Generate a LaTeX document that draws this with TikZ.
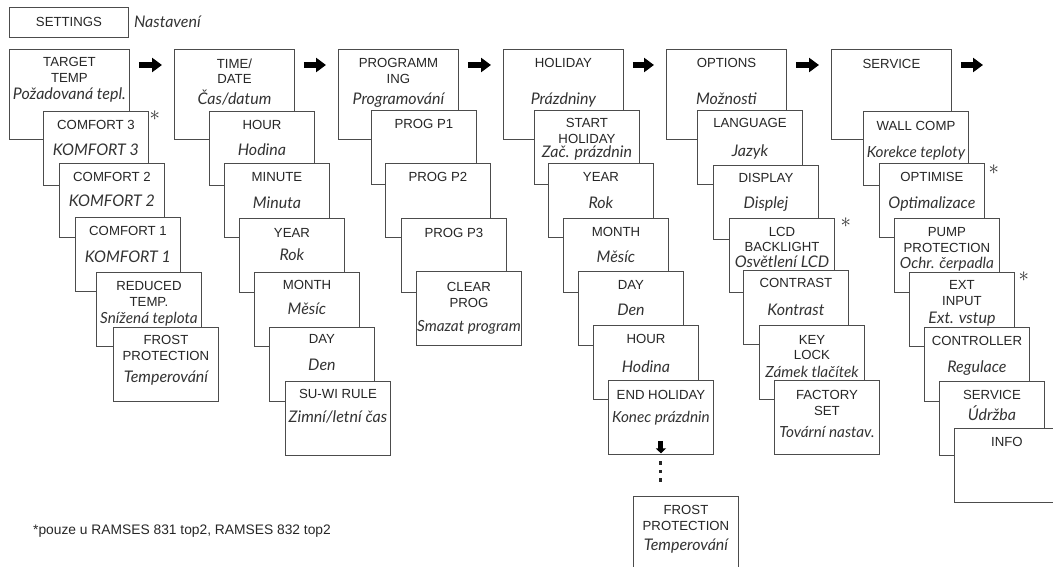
\documentclass[tikz,border=0pt]{standalone}
\usepackage{fontspec}
\setmainfont{Liberation Sans}
\newfontfamily\czfont{Lato}
\usetikzlibrary{arrows.meta}

\begin{document}
\begin{tikzpicture}[x=1pt,y=-1pt,
	hd/.style={draw=black!70,line width=0.9pt,fill=white,anchor=north west,inner sep=0pt,minimum width=120pt,minimum height=90pt},
	sub/.style={hd,minimum width=105pt,minimum height=74pt},
	up/.style={anchor=north,inner sep=0pt,align=center,text=black!85,font=\fontsize{13.2}{15.5}\selectfont},
	cz/.style={anchor=base,inner sep=0pt,text=black!80,font=\czfont\itshape\fontsize{16}{18}\selectfont},
	czs/.style={cz,font=\czfont\itshape\fontsize{15.3}{18}\selectfont},
	blk/.style={line width=6pt,-{Triangle[length=10pt,width=14pt]}},
	dn/.style={line width=5pt,-{Triangle[length=5pt,width=10pt]}},
	star/.style={inner sep=0pt,text=black!80,font=\fontsize{22}{22}\selectfont}]
	\useasboundingbox (0,0) rectangle (1053,567);

	\node[hd,minimum width=119pt,minimum height=30pt,font=\fontsize{13.2}{16}\selectfont,text=black!85] (set) at (9,7) {SETTINGS};
	\node[cz,anchor=base west] (set-c) at ([xshift=5pt,yshift=-5pt]set.east) {Nastavení};

	\node[hd] (tt) at (9,49) {};
	\node[up] (tt-u) at ([yshift=-8.5pt]tt.north) {TARGET\\TEMP};
	\node[cz] (tt-c) at ([yshift=-51pt]tt.north) {Požadovaná tepl.};
	\node[sub] (tt1) at (43,111) {};
	\node[up] (tt1-u) at ([yshift=-9.5pt]tt1.north) {COMFORT 3};
	\node[cz] (tt1-c) at ([yshift=-45pt]tt1.north) {KOMFORT 3};
	\node[star] (tt1-s) at ([xshift=6pt,yshift=-5pt]tt1.north east) {$\ast$};
	\node[sub] (tt2) at (59,163) {};
	\node[up] (tt2-u) at ([yshift=-9.5pt]tt2.north) {COMFORT 2};
	\node[cz] (tt2-c) at ([yshift=-44pt]tt2.north) {KOMFORT 2};
	\node[sub] (tt3) at (75,217) {};
	\node[up] (tt3-u) at ([yshift=-9.5pt]tt3.north) {COMFORT 1};
	\node[cz] (tt3-c) at ([yshift=-45pt]tt3.north) {KOMFORT 1};
	\node[sub] (tt4) at (96,272) {};
	\node[up] (tt4-u) at ([yshift=-9.5pt]tt4.north) {REDUCED\\TEMP.};
	\node[czs] (tt4-c) at ([yshift=-51pt]tt4.north) {Snížená teplota};
	\node[sub] (tt5) at (113,327) {};
	\node[up] (tt5-u) at ([yshift=-8.5pt]tt5.north) {FROST\\PROTECTION};
	\node[cz] (tt5-c) at ([yshift=-55pt]tt5.north) {Temperování};

	\node[hd] (td) at (174,49) {};
	\node[up] (td-u) at ([yshift=-9.5pt]td.north) {TIME/\\DATE};
	\node[cz] (td-c) at ([yshift=-56pt]td.north) {Čas/datum};
	\node[sub] (td1) at (209,111) {};
	\node[up] (td1-u) at ([yshift=-9.5pt]td1.north) {HOUR};
	\node[cz] (td1-c) at ([yshift=-45pt]td1.north) {Hodina};
	\node[sub] (td2) at (224,163) {};
	\node[up] (td2-u) at ([yshift=-9.5pt]td2.north) {MINUTE};
	\node[cz] (td2-c) at ([yshift=-45pt]td2.north) {Minuta};
	\node[sub] (td3) at (239,218) {};
	\node[up] (td3-u) at ([yshift=-10.5pt]td3.north) {YEAR};
	\node[cz] (td3-c) at ([yshift=-42pt]td3.north) {Rok};
	\node[sub] (td4) at (254,272) {};
	\node[up] (td4-u) at ([yshift=-8.5pt]td4.north) {MONTH};
	\node[cz] (td4-c) at ([yshift=-42pt]td4.north) {Měsíc};
	\node[sub] (td5) at (269,327) {};
	\node[up] (td5-u) at ([yshift=-7.5pt]td5.north) {DAY};
	\node[cz] (td5-c) at ([yshift=-43pt]td5.north) {Den};
	\node[sub] (td6) at (285,381) {};
	\node[up] (td6-u) at ([yshift=-8.5pt]td6.north) {SU-WI RULE};
	\node[cz] (td6-c) at ([yshift=-41pt]td6.north) {Zimní/letní čas};

	\node[hd] (pg) at (338,49) {};
	\node[up] (pg-u) at ([yshift=-9.5pt]pg.north) {PROGRAMM\\ING};
	\node[cz] (pg-c) at ([yshift=-56pt]pg.north) {Programování};
	\node[sub] (pg1) at (371,110) {};
	\node[up] (pg1-u) at ([yshift=-9.5pt]pg1.north) {PROG P1};
	\node[sub] (pg2) at (385,163) {};
	\node[up] (pg2-u) at ([yshift=-9.5pt]pg2.north) {PROG P2};
	\node[sub] (pg3) at (401,218) {};
	\node[up] (pg3-u) at ([yshift=-10.5pt]pg3.north) {PROG P3};
	\node[sub] (pg4) at (416,271) {};
	\node[up] (pg4-u) at ([yshift=-11.5pt]pg4.north) {CLEAR\\PROG};
	\node[czs] (pg4-c) at ([yshift=-60pt]pg4.north) {Smazat program};

	\node[hd] (hol) at (503,49) {};
	\node[up] (hol-u) at ([yshift=-9.5pt]hol.north) {HOLIDAY};
	\node[cz] (hol-c) at ([yshift=-56pt]hol.north) {Prázdniny};
	\node[sub] (hol1) at (534,110) {};
	\node[up] (hol1-u) at ([yshift=-8.5pt]hol1.north) {START\\HOLIDAY};
	\node[cz] (hol1-c) at ([yshift=-48pt]hol1.north) {Zač. prázdnin};
	\node[sub] (hol2) at (548,163) {};
	\node[up] (hol2-u) at ([yshift=-9.5pt]hol2.north) {YEAR};
	\node[cz] (hol2-c) at ([yshift=-45pt]hol2.north) {Rok};
	\node[sub] (hol3) at (563,218) {};
	\node[up] (hol3-u) at ([yshift=-9.5pt]hol3.north) {MONTH};
	\node[cz] (hol3-c) at ([yshift=-44pt]hol3.north) {Měsíc};
	\node[sub] (hol4) at (578,271) {};
	\node[up] (hol4-u) at ([yshift=-9.5pt]hol4.north) {DAY};
	\node[cz] (hol4-c) at ([yshift=-44pt]hol4.north) {Den};
	\node[sub] (hol5) at (593,325) {};
	\node[up] (hol5-u) at ([yshift=-9.5pt]hol5.north) {HOUR};
	\node[cz] (hol5-c) at ([yshift=-47pt]hol5.north) {Hodina};
	\node[sub] (hol6) at (608,380) {};
	\node[up] (hol6-u) at ([yshift=-10.5pt]hol6.north) {END HOLIDAY};
	\node[czs] (hol6-c) at ([yshift=-42pt]hol6.north) {Konec prázdnin};
	\draw[dn] ([yshift=14pt]hol6.south) -- ([yshift=1.5pt]hol6.south);
	\foreach \d in {463,471.5,480}
		\fill[black!85] (658.8,\d-1.7) rectangle +(3.4,3.4);
	\node[sub] (hol7) at (633,496) {};
	\node[up] (hol7-u) at ([yshift=-9.5pt]hol7.north) {FROST\\PROTECTION};
	\node[cz] (hol7-c) at ([yshift=-54pt]hol7.north) {Temperování};

	\node[hd] (opt) at (666,49) {};
	\node[up] (opt-u) at ([yshift=-9.5pt]opt.north) {OPTIONS};
	\node[cz] (opt-c) at ([yshift=-56pt]opt.north) {Možnosti};
	\node[sub] (opt1) at (697,110) {};
	\node[up] (opt1-u) at ([yshift=-8.5pt]opt1.north) {LANGUAGE};
	\node[cz] (opt1-c) at ([yshift=-47pt]opt1.north) {Jazyk};
	\node[sub] (opt2) at (713,165) {};
	\node[up] (opt2-u) at ([yshift=-8.5pt]opt2.north) {DISPLAY};
	\node[cz] (opt2-c) at ([yshift=-43pt]opt2.north) {Displej};
	\node[sub] (opt3) at (729,218) {};
	\node[up] (opt3-u) at ([yshift=-9pt]opt3.north) {LCD\\BACKLIGHT};
	\node[cz] (opt3-c) at ([yshift=-49.5pt]opt3.north) {Osvětlení LCD};
	\node[star] (opt3-s) at ([xshift=11pt,yshift=-5pt]opt3.north east) {$\ast$};
	\node[sub] (opt4) at (743,270) {};
	\node[up] (opt4-u) at ([yshift=-8.5pt]opt4.north) {CONTRAST};
	\node[cz] (opt4-c) at ([yshift=-45pt]opt4.north) {Kontrast};
	\node[sub] (opt5) at (759,325) {};
	\node[up] (opt5-u) at ([yshift=-10pt]opt5.north) {KEY\\LOCK};
	\node[czs] (opt5-c) at ([yshift=-52pt]opt5.north) {Zámek tlačítek};
	\node[sub] (opt6) at (774,380) {};
	\node[up] (opt6-u) at ([yshift=-10.5pt]opt6.north) {FACTORY\\SET};
	\node[czs] (opt6-c) at ([yshift=-57pt]opt6.north) {Tovární nastav.};

	\node[hd] (srv) at (831,49) {};
	\node[up] (srv-u) at ([yshift=-10.5pt]srv.north) {SERVICE};
	\node[sub] (srv1) at (863,111) {};
	\node[up] (srv1-u) at ([yshift=-10.5pt]srv1.north) {WALL COMP};
	\node[czs] (srv1-c) at ([yshift=-47pt]srv1.north) {Korekce teploty};
	\node[sub] (srv2) at (879,163) {};
	\node[up] (srv2-u) at ([yshift=-9.5pt]srv2.north) {OPTIMISE};
	\node[cz] (srv2-c) at ([yshift=-45pt]srv2.north) {Optimalizace};
	\node[star] (srv2-s) at ([xshift=9pt,yshift=-7pt]srv2.north east) {$\ast$};
	\node[sub] (srv3) at (894,218) {};
	\node[up] (srv3-u) at ([yshift=-9.5pt]srv3.north) {PUMP\\PROTECTION};
	\node[czs] (srv3-c) at ([yshift=-50pt]srv3.north) {Ochr. čerpadla};
	\node[sub] (srv4) at (909,272) {};
	\node[up] (srv4-u) at ([yshift=-8.5pt]srv4.north) {EXT\\INPUT};
	\node[cz] (srv4-c) at ([yshift=-51pt]srv4.north) {Ext. vstup};
	\node[star] (srv4-s) at ([xshift=9pt,yshift=-5pt]srv4.north east) {$\ast$};
	\node[sub] (srv5) at (924,327) {};
	\node[up] (srv5-u) at ([yshift=-9.5pt]srv5.north) {CONTROLLER};
	\node[cz] (srv5-c) at ([yshift=-45pt]srv5.north) {Regulace};
	\node[sub] (srv6) at (939,381) {};
	\node[up] (srv6-u) at ([yshift=-9.5pt]srv6.north) {SERVICE};
	\node[cz] (srv6-c) at ([yshift=-39pt]srv6.north) {Údržba};
	\node[sub] (srv7) at (954,428) {};
	\node[up] (srv7-u) at ([yshift=-9.5pt]srv7.north) {INFO};

	\coordinate (nx) at (983,65);
	\draw[blk] ([xshift=9pt,yshift=-16pt]tt.north east) -- ([xshift=-12pt,yshift=-16pt]td.north west);
	\draw[blk] ([xshift=9pt,yshift=-16pt]td.north east) -- ([xshift=-12pt,yshift=-16pt]pg.north west);
	\draw[blk] ([xshift=9pt,yshift=-16pt]pg.north east) -- ([xshift=-12pt,yshift=-16pt]hol.north west);
	\draw[blk] ([xshift=9pt,yshift=-16pt]hol.north east) -- ([xshift=-12pt,yshift=-16pt]opt.north west);
	\draw[blk] ([xshift=9pt,yshift=-16pt]opt.north east) -- ([xshift=-12pt,yshift=-16pt]srv.north west);
	\draw[blk] ([xshift=9pt,yshift=-16pt]srv.north east) -- (nx);

	\node[anchor=base west,inner sep=0pt,text=black!85,font=\fontsize{13.8}{16}\selectfont] (note) at (33,534) {*pouze u RAMSES 831 top2, RAMSES 832 top2};
\end{tikzpicture}
\end{document}
